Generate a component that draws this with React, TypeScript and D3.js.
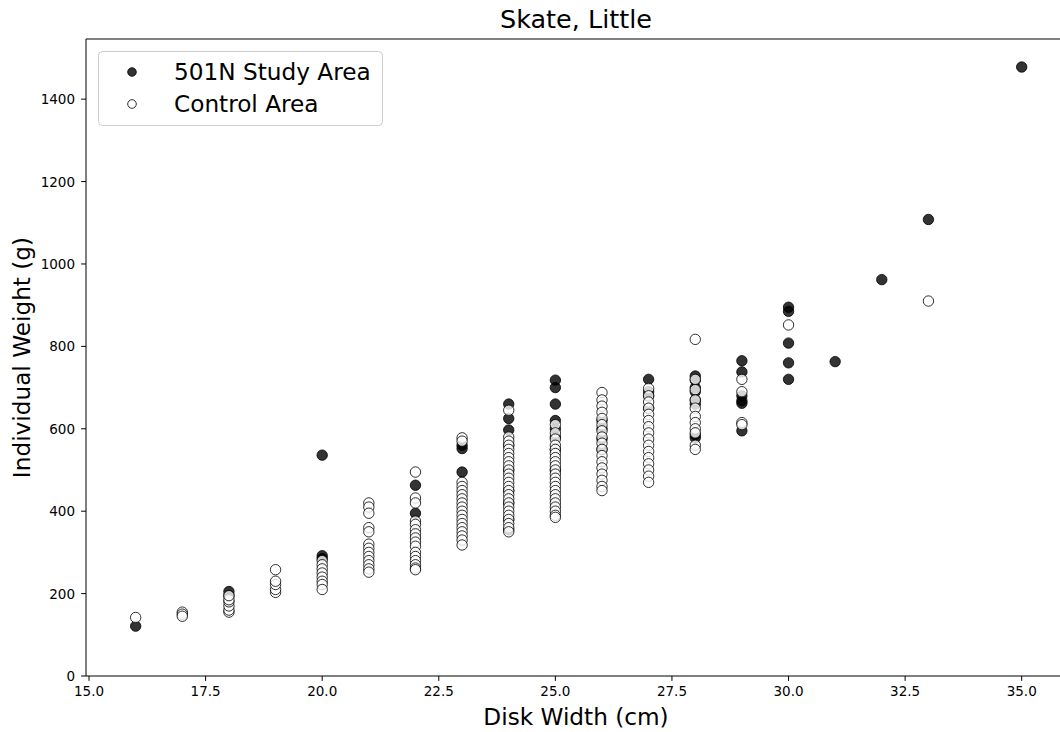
import React from "react";
import * as d3 from "d3";

// Disk width (cm) -> individual weights (g)
const studyArea: [number, number[]][] = [
  [16, [121]],
  [18, [195, 205]],
  [20, [536, 292, 285]],
  [22, [463, 395]],
  [23, [560, 552, 495]],
  [24, [660, 625, 597, 560, 500, 450, 420, 380, 355]],
  [25, [718, 700, 660, 620, 600, 580, 550, 500]],
  [26, [620, 600, 575, 550]],
  [27, [720, 690, 680, 650]],
  [28, [728, 718, 700, 690, 670, 660, 585, 578]],
  [29, [765, 738, 680, 668, 662, 595]],
  [30, [895, 885, 808, 760, 720]],
  [31, [763]],
  [32, [962]],
  [33, [1108]],
  [35, [1478]],
];

const controlArea: [number, number[]][] = [
  [16, [142]],
  [17, [155, 150, 145]],
  [18, [155, 160, 170, 180, 185, 195]],
  [19, [203, 210, 222, 230, 258]],
  [20, [280, 270, 260, 250, 240, 230, 222, 210]],
  [21, [420, 410, 395, 360, 350, 320, 310, 300, 290, 280, 270, 260, 252]],
  [22, [495, 432, 420, 376, 368, 355, 345, 335, 325, 315, 300, 290, 280, 270, 262, 258]],
  [23, [578, 570, 470, 460, 450, 440, 430, 420, 410, 400, 390, 380, 370, 360, 350, 340, 330, 318]],
  [24, [645, 580, 570, 560, 550, 540, 530, 520, 510, 500, 490, 480, 470, 460, 450, 440, 430, 420, 410, 400, 390, 380, 370, 360, 350]],
  [25, [610, 590, 575, 560, 550, 540, 530, 520, 510, 500, 490, 480, 470, 460, 450, 440, 430, 420, 410, 400, 390, 385]],
  [26, [688, 670, 655, 640, 625, 610, 595, 580, 565, 550, 535, 520, 505, 490, 475, 460, 450]],
  [27, [698, 680, 665, 650, 635, 620, 605, 590, 575, 560, 545, 530, 515, 500, 485, 470]],
  [28, [817, 720, 695, 670, 650, 630, 615, 600, 590, 560, 550]],
  [29, [720, 690, 615, 610]],
  [30, [852]],
  [33, [910]],
];

const xTicks = [15.0, 17.5, 20.0, 22.5, 25.0, 27.5, 30.0, 32.5, 35.0];
const yTicks = [0, 200, 400, 600, 800, 1000, 1200, 1400];

const legendLabels = ["501N Study Area", "Control Area"];

const FONT = "'DejaVu Sans', sans-serif";

function flatten(groups: [number, number[]][]) {
  const out: { x: number; y: number }[] = [];
  groups.forEach(([x, ys]) => ys.forEach((y) => out.push({ x, y })));
  return out;
}

export default function App() {
  const W = 1060;
  const H = 732;
  const left = 86;
  const right = 1066;
  const top = 39;
  const bottom = 676;

  const x = d3.scaleLinear().domain([14.935, 35.95]).range([left, right]);
  const y = d3.scaleLinear().domain([0, 1546]).range([bottom, top]);

  const study = flatten(studyArea);
  const control = flatten(controlArea);
  const r = 5.2;

  return (
    <svg
      width={W}
      height={H}
      style={{ position: "absolute", left: 0, top: 0, background: "#fff" }}
      fontFamily={FONT}
    >
      <rect x={0} y={0} width={W} height={H} fill="#fff" />
      <defs>
        <clipPath id="plot">
          <rect x={left} y={top} width={right - left} height={bottom - top} />
        </clipPath>
      </defs>

      {/* points: study first, control drawn on top */}
      <g clipPath="url(#plot)">
        {study.map((d, i) => (
          <circle
            key={"s" + i}
            cx={x(d.x)}
            cy={y(d.y)}
            r={r}
            fill="#000"
            fillOpacity={0.8}
            stroke="#000"
            strokeOpacity={0.8}
            strokeWidth={1}
          />
        ))}
        {control.map((d, i) => (
          <circle
            key={"c" + i}
            cx={x(d.x)}
            cy={y(d.y)}
            r={r}
            fill="#fff"
            fillOpacity={0.8}
            stroke="#000"
            strokeOpacity={0.8}
            strokeWidth={1}
          />
        ))}
      </g>

      {/* spines */}
      <line x1={left} x2={left} y1={top} y2={bottom} stroke="#000" strokeWidth={1} />
      <line x1={left} x2={right} y1={bottom} y2={bottom} stroke="#000" strokeWidth={1} />
      <line x1={left} x2={right} y1={top} y2={top} stroke="#000" strokeWidth={1} />

      {/* x ticks */}
      {xTicks.map((t) => (
        <g key={"xt" + t}>
          <line x1={x(t)} x2={x(t)} y1={bottom} y2={bottom + 4.9} stroke="#000" strokeWidth={1} />
          <text x={x(t)} y={bottom + 20} textAnchor="middle" fontSize={13.5} fill="#000">
            {t.toFixed(1)}
          </text>
        </g>
      ))}

      {/* y ticks */}
      {yTicks.map((t) => (
        <g key={"yt" + t}>
          <line x1={left - 4.9} x2={left} y1={y(t)} y2={y(t)} stroke="#000" strokeWidth={1} />
          <text x={left - 11} y={y(t) + 5} textAnchor="end" fontSize={13.5} fill="#000">
            {t}
          </text>
        </g>
      ))}

      {/* title and labels */}
      <text x={(left + right) / 2} y={28} textAnchor="middle" fontSize={25.5} fill="#000">
        Skate, Little
      </text>
      <text x={(left + right) / 2} y={725} textAnchor="middle" fontSize={23.2} fill="#000">
        Disk Width (cm)
      </text>
      <text
        transform={`translate(30, ${(top + bottom) / 2}) rotate(-90)`}
        textAnchor="middle"
        fontSize={23.2}
        fill="#000"
      >
        Individual Weight (g)
      </text>

      {/* legend */}
      <g>
        <rect
          x={98.5}
          y={51.5}
          width={284}
          height={74}
          rx={4}
          fill="#fff"
          fillOpacity={0.8}
          stroke="#ccc"
          strokeWidth={1}
        />
        <circle cx={132} cy={72} r={4.3} fill="#000" fillOpacity={0.8} stroke="#000" strokeOpacity={0.8} />
        <text x={174} y={80} fontSize={23.2} fill="#000">
          {legendLabels[0]}
        </text>
        <circle cx={132} cy={104} r={4.3} fill="#fff" stroke="#000" strokeOpacity={0.8} />
        <text x={174} y={112} fontSize={23.2} fill="#000">
          {legendLabels[1]}
        </text>
      </g>
    </svg>
  );
}
